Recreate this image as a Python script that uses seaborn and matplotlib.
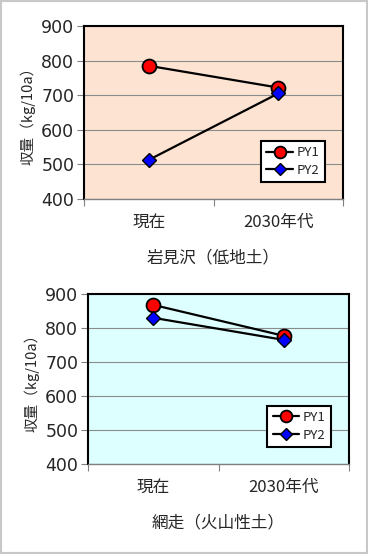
import numpy as np
import pandas as pd
import matplotlib
matplotlib.use("Agg")
import matplotlib.pyplot as plt
import seaborn as sns

# data
periods = ["現在", "2030年代"]
series_names = ["PY1", "PY2"]
iwamizawa_py1 = [785, 722]
iwamizawa_py2 = [513, 705]
abashiri_py1 = [868, 777]
abashiri_py2 = [830, 765]
yticks = [400, 500, 600, 700, 800, 900]

sns.set_style("white")
plt.rcParams["font.family"] = ["Noto Sans CJK JP", "DejaVu Sans"]

fig = plt.figure(figsize=(3.68, 5.54), dpi=100)
W, H = 368, 554


def px_axes(left, top, right, bottom):
    return fig.add_axes([left / W, 1 - bottom / H, (right - left) / W, (bottom - top) / H])


def draw_panel(ax, py1, py2, bg, xlabel, legend_anchor):
    ax.set_facecolor(bg)
    sns.lineplot(x=periods, y=py1, ax=ax, color="black", lw=1.6, marker="o",
                 markersize=10, markerfacecolor="#ff0000", markeredgecolor="black",
                 markeredgewidth=1.3, label=series_names[0], zorder=3)
    sns.lineplot(x=periods, y=py2, ax=ax, color="black", lw=1.6, marker="D",
                 markersize=7.5, markerfacecolor="#0000ff", markeredgecolor="black",
                 markeredgewidth=1.0, label=series_names[1], zorder=4)
    ax.set_ylim(400, 900)
    ax.set_xlim(-0.5, 1.5)
    ax.set_yticks(yticks)
    ax.yaxis.grid(True, color="#8c8c8c", lw=0.8)
    ax.set_axisbelow(True)
    # category boundaries as major ticks, labels on minor ticks
    ax.set_xticks([-0.5, 0.5, 1.5])
    ax.set_xticklabels([])
    ax.set_xticks([0, 1], minor=True)
    ax.set_xticklabels(periods, minor=True, fontsize=12)
    ax.tick_params(axis="x", which="major", direction="out", length=5, color="#808080",
                   bottom=True)
    ax.tick_params(axis="x", which="minor", length=0, pad=11)
    ax.tick_params(axis="y", direction="out", length=5, color="#808080", left=True,
                   labelsize=12.5, pad=2)
    for lab in ax.get_yticklabels():
        lab.set_family("DejaVu Sans")
    for s in ["left", "top", "right"]:
        ax.spines[s].set_color("black")
        ax.spines[s].set_linewidth(1.5)
    ax.spines["bottom"].set_color("#808080")
    ax.spines["bottom"].set_linewidth(1.0)
    ax.set_xlabel(xlabel, fontsize=12, labelpad=13)
    ax.set_ylabel("収量（kg/10a）", fontsize=10.5, labelpad=4)
    leg = ax.legend(loc="lower right", bbox_to_anchor=legend_anchor, borderaxespad=0,
                    fontsize=9.5, frameon=True, fancybox=False, framealpha=1,
                    edgecolor="black", handlelength=2.0, handletextpad=0.3,
                    borderpad=0.4, labelspacing=0.35, markerscale=0.85)
    leg.get_frame().set_linewidth(1.5)


ax1 = px_axes(84, 26, 343, 199)
draw_panel(ax1, iwamizawa_py1, iwamizawa_py2, "#fde3d1", "岩見沢（低地土）", (0.93, 0.098))

ax2 = px_axes(88, 294, 349, 464)
draw_panel(ax2, abashiri_py1, abashiri_py2, "#ddffff", "網走（火山性土）", (0.931, 0.1))

# outer gray frame
fig.patches.append(plt.Rectangle((0, 0), 1, 1, transform=fig.transFigure, fill=False,
                                 edgecolor="#c8c8c8", lw=3))

fig.savefig("out.png", dpi=100)
